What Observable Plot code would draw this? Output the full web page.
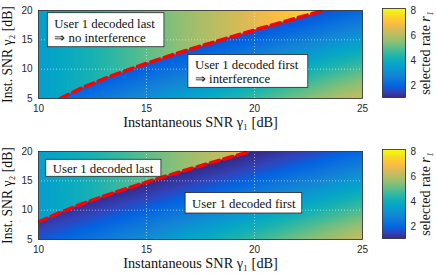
<!DOCTYPE html>
<html><head><meta charset="utf-8">
<script src="https://cdn.jsdelivr.net/npm/d3@7"></script>
<script src="https://cdn.jsdelivr.net/npm/@observablehq/plot@0.6"></script>
<style>
body{margin:0;background:#fff;}
#root{width:436px;height:278px;position:relative;overflow:hidden;background:#fff;}
.row{display:flex;position:absolute;left:0;width:436px;}
.row svg{display:block;}
</style></head><body><div id="root"></div>
<script>
// ---------- data ----------
const gamma1Grid = [10, 12.5, 15, 17.5, 20, 22.5, 25];          // dB
const gamma2Grid = [5, 7.5, 10, 12.5, 15, 17.5, 20];            // dB
// selected rate r1 when user 1 is decoded last (depends on gamma1 only)
const rateDecodedLast = [3.46, 4.23, 5.03, 5.84, 6.66, 7.48, 8.31];
// selected rate r1 when user 1 is decoded first (rows: gamma2, cols: gamma1)
const rateDecodedFirst = [
  [1.77, 2.40, 3.10, 3.86, 4.65, 5.45, 6.27],
  [1.33, 1.88, 2.53, 3.25, 4.01, 4.80, 5.61],
  [0.93, 1.39, 1.95, 2.61, 3.34, 4.10, 4.90],
  [0.62, 0.96, 1.42, 2.00, 2.66, 3.39, 4.16],
  [0.39, 0.63, 0.98, 1.45, 2.02, 2.69, 3.42],
  [0.23, 0.39, 0.64, 0.99, 1.46, 2.04, 2.71],
  [0.14, 0.23, 0.39, 0.64, 0.99, 1.47, 2.05]
];
// decoding-order boundary (red dashed line)
const boundaryTopGamma1 = [11, 12, 13, 14, 15, 16, 17, 18, 19, 20, 21, 22, 23, 23.2];
const boundaryTopGamma2 = [5.0, 6.78, 8.31, 9.70, 10.98, 12.19, 13.36, 14.48, 15.58, 16.66, 17.71, 18.76, 19.79, 20.0];
const boundaryBottomGamma1 = [10, 11, 12, 13, 14, 15, 16, 17, 18, 19, 19.8];
const boundaryBottomGamma2 = [8.0, 9.61, 11.05, 12.36, 13.59, 14.77, 15.91, 17.01, 18.10, 19.16, 20.0];
const xTicks = [10, 15, 20, 25];
const yTicks = [5, 10, 15, 20];
const colorTicks = [2, 4, 6, 8];
const rateRange = [1.04, 8.16];
const xLabel = "Instantaneous SNR γ₁ [dB]";
const yLabel = "Inst. SNR γ₂ [dB]";
const colorLabel = "selected rate r₁";
const annotationTextTop = ["User 1 decoded last\n⇒ no interference", "User 1 decoded first\n⇒ interference"];
const annotationTextBottom = ["User 1 decoded last", "User 1 decoded first"];

// ---------- layout (annotation boxes, in axis units) ----------
const boxesTop = [
  {x1: 10.43, x2: 15.83, y1: 13.74, y2: 19.54},
  {x1: 16.94, x2: 22.49, y1: 6.82, y2: 12.41}
];
const boxesBottom = [
  {x1: 10.36, x2: 15.69, y1: 15.69, y2: 18.59},
  {x1: 16.81, x2: 22.21, y1: 9.43, y2: 12.91}
];

// ---------- parula colormap (style) ----------
const parulaStops = [
  [0,[0.2081,0.1663,0.5292]],[4,[0.1959,0.2645,0.7279]],[8,[0.0117,0.3875,0.8820]],
  [12,[0.0498,0.4586,0.8641]],[16,[0.0793,0.5200,0.8312]],[20,[0.0343,0.5966,0.8199]],
  [24,[0.0228,0.6535,0.7768]],[28,[0.0843,0.6928,0.7062]],[32,[0.2178,0.7250,0.6193]],
  [36,[0.3953,0.7459,0.5244]],[40,[0.5709,0.7485,0.4494]],[44,[0.7184,0.7411,0.3905]],
  [48,[0.8507,0.7299,0.3360]],[52,[0.9739,0.7314,0.2666]],[56,[0.9880,0.8066,0.1794]],
  [60,[0.9598,0.9218,0.0948]],[63,[0.9763,0.9831,0.0538]]
];
const parulaScale = d3.scaleLinear()
  .domain(parulaStops.map(d => d[0] / 63))
  .range(parulaStops.map(d => d3.rgb(d[1][0]*255, d[1][1]*255, d[1][2]*255).formatHex()))
  .interpolate(d3.interpolateRgb).clamp(true);
const parula = t => parulaScale(t);
const colorOpts = {type: "linear", domain: rateRange, interpolate: parula, clamp: true};

// lookup of the read grid (rendering only)
function gridLookup(x, y) {
  const i = Math.max(0, Math.min(gamma1Grid.length - 2, d3.bisectRight(gamma1Grid, x) - 1));
  const j = Math.max(0, Math.min(gamma2Grid.length - 2, d3.bisectRight(gamma2Grid, y) - 1));
  const tx = (x - gamma1Grid[i]) / (gamma1Grid[i + 1] - gamma1Grid[i]);
  const ty = (y - gamma2Grid[j]) / (gamma2Grid[j + 1] - gamma2Grid[j]);
  const a = rateDecodedFirst[j][i] * (1 - tx) + rateDecodedFirst[j][i + 1] * tx;
  const b = rateDecodedFirst[j + 1][i] * (1 - tx) + rateDecodedFirst[j + 1][i + 1] * tx;
  return a * (1 - ty) + b * ty;
}
const lastRate = d3.scaleLinear(gamma1Grid, rateDecodedLast);

const ink = "#262626";
const serif = "'Liberation Serif', 'Times New Roman', serif";
const sans = "'Liberation Sans', Arial, sans-serif";

function panel(bx, by, boxes, texts) {
  const boundary = d3.scaleLinear(bx, by);
  const linePts = bx.map((x, i) => ({g1: x, g2: by[i]}));
  const ann = boxes.map((b, i) => ({...b, text: texts[i]}));
  return Plot.plot({
    width: 372, height: 140,
    marginLeft: 38, marginRight: 10, marginTop: 10, marginBottom: 42,
    style: {fontFamily: sans, fontSize: "10px", color: ink, background: "transparent", overflow: "visible"},
    x: {domain: [10, 25], label: null},
    y: {domain: [5, 20], label: null},
    color: colorOpts,
    marks: [
      Plot.raster({x1: 10, x2: 25, y1: 5, y2: 20, pixelSize: 1,
        fill: (x, y) => (y > boundary(x) ? lastRate(x) : gridLookup(x, y))}),
      Plot.gridX(xTicks.slice(1, -1), {stroke: "#f2f2f2", strokeOpacity: 0.75, strokeDasharray: "1,2", strokeWidth: 0.8}),
      Plot.gridY(yTicks.slice(1, -1), {stroke: "#f2f2f2", strokeOpacity: 0.75, strokeDasharray: "1,2", strokeWidth: 0.8}),
      Plot.line(linePts, {x: "g1", y: "g2", stroke: "#ff0000", strokeWidth: 3.6, strokeDasharray: "9,5", clip: true}),
      Plot.rect(ann, {x1: "x1", x2: "x2", y1: "y1", y2: "y2", fill: "white", stroke: ink, strokeWidth: 0.8}),
      Plot.text(ann, {x: "x1", y: d => (d.y1 + d.y2) / 2, text: "text", dx: 6.5,
        textAnchor: "start", lineAnchor: "middle", lineHeight: 1.12,
        fontFamily: serif, fontSize: 12.8, fill: "#111"}),
      Plot.frame({stroke: ink, strokeWidth: 0.8}),
      Plot.axisX(xTicks, {tickSize: 0, tickPadding: 6, label: null, fontSize: 10, fill: ink}),
      Plot.axisY(yTicks, {tickSize: 0, tickPadding: 6, label: null, fontSize: 10, fill: ink}),
      Plot.text([xLabel], {frameAnchor: "bottom", text: d => d, dy: 28, fontFamily: serif, fontSize: 14.3, fill: "#111"}),
      Plot.text([yLabel], {frameAnchor: "left", text: d => d, dx: -31, rotate: -90, textAnchor: "middle",
        fontFamily: serif, fontSize: 13.7, fill: "#111"})
    ]
  });
}

function colorbar() {
  return Plot.plot({
    width: 64, height: 140,
    marginLeft: 10, marginRight: 31, marginTop: 8, marginBottom: 43,
    style: {fontFamily: sans, fontSize: "10px", color: ink, background: "transparent", overflow: "visible"},
    x: {domain: [0, 1], axis: null},
    y: {domain: rateRange, label: null},
    color: colorOpts,
    marks: [
      Plot.raster({x1: 0, x2: 1, y1: rateRange[0], y2: rateRange[1], pixelSize: 1, fill: (x, y) => y}),
      Plot.frame({stroke: ink, strokeWidth: 0.8}),
      Plot.axisY(colorTicks, {anchor: "right", tickSize: 0, tickPadding: 5, label: null, fontSize: 10, fill: ink}),
      Plot.text([colorLabel], {frameAnchor: "right", text: d => d, dx: 20, rotate: -90, textAnchor: "middle",
        fontFamily: serif, fontSize: 14, fill: "#111"})
    ]
  });
}

const root = document.getElementById("root");
[[0, boundaryTopGamma1, boundaryTopGamma2, boxesTop, annotationTextTop],
 [141, boundaryBottomGamma1, boundaryBottomGamma2, boxesBottom, annotationTextBottom]]
.forEach(([top, bx, by, boxes, texts]) => {
  const row = document.createElement("div");
  row.className = "row";
  row.style.top = top + "px";
  row.appendChild(panel(bx, by, boxes, texts));
  row.appendChild(colorbar());
  root.appendChild(row);
});
// italic variable r in colour-bar label
document.querySelectorAll("text").forEach(t => {
  if (t.textContent === colorLabel) {
    t.textContent = "";
    const a = document.createElementNS("http://www.w3.org/2000/svg", "tspan");
    a.textContent = "selected rate ";
    const b = document.createElementNS("http://www.w3.org/2000/svg", "tspan");
    b.textContent = "r₁"; b.setAttribute("font-style", "italic");
    t.appendChild(a); t.appendChild(b);
  }
});
</script></body></html>
